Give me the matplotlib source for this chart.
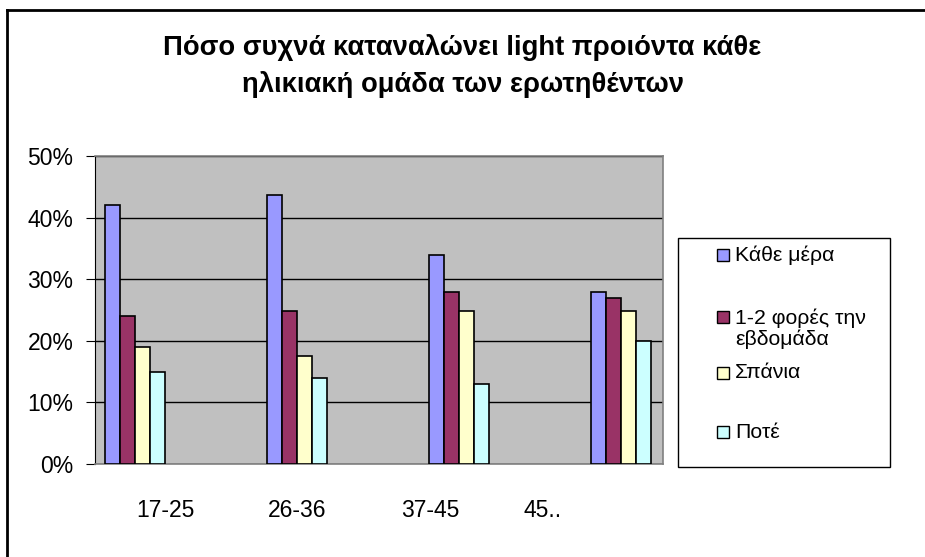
import matplotlib
matplotlib.use("Agg")
import matplotlib.pyplot as plt
from matplotlib.patches import Rectangle
from matplotlib.lines import Line2D

plt.rcParams['font.family'] = ['Liberation Sans', 'DejaVu Sans']

# age groups and answer shares (%)
age_groups = ["17-25", "26-36", "37-45", "45.."]
series_names = ["Κάθε μέρα", "1-2 φορές την\nεβδομάδα", "Σπάνια", "Ποτέ"]
every_day = [42, 43.6, 34, 28]
weekly = [24, 24.8, 28, 27]
rarely = [19, 17.6, 24.8, 24.8]
never = [15, 14, 13, 20]
series_values = [every_day, weekly, rarely, never]
series_colors = ["#9999FF", "#993366", "#FFFFCC", "#CCFFFF"]

title = "Πόσο συχνά καταναλώνει light προιόντα κάθε\nηλικιακή ομάδα των ερωτηθέντων"

W, H = 925, 557
fig = plt.figure(figsize=(W / 100, H / 100), dpi=100)


def fx(px):
    return px / W


def fy(py):
    return 1 - py / H


# plot area (pixel box 95..663 x 156..464)
ax = fig.add_axes([fx(95), fy(464), fx(663) - fx(95), fy(156) - fy(464)])
ax.set_facecolor("#C0C0C0")

bar_w = 0.0926
offset = 0.0617
for s, (vals, color) in enumerate(zip(series_values, series_colors)):
    xs = [i + offset + s * bar_w for i in range(len(age_groups))]
    ax.bar(xs, vals, width=bar_w, align="edge", color=color,
           edgecolor="black", linewidth=1.2, zorder=3)

ax.set_xlim(0, 568 / 162)
ax.set_ylim(0, 50)
ax.set_yticks(range(0, 51, 10))
ax.set_yticklabels([f"{v}%" for v in range(0, 51, 10)], fontsize=16.5)
ax.yaxis.grid(True, color="black", linewidth=1.0, zorder=1)

# category labels sit where the original layout put them
label_pos = [(165 - 95) / 162, (297 - 95) / 162, (430 - 95) / 162, (543 - 95) / 162]
ax.set_xticks(label_pos)
ax.set_xticklabels(age_groups, fontsize=16.5)
ax.tick_params(axis="x", length=0, pad=25.5)
ax.tick_params(axis="y", length=6.5, width=0.8, pad=9, direction="out")

for side in ["top", "right", "bottom"]:
    ax.spines[side].set_color("#808080")
    ax.spines[side].set_linewidth(1.2)
ax.spines["left"].set_color("black")
ax.spines["left"].set_linewidth(0.8)

fig.text(0.5, fy(66), title, ha="center", va="center", fontsize=19.7,
         fontweight="bold", linespacing=1.5)

# legend drawn by hand
fig.patches.append(Rectangle((fx(678), fy(467)), fx(890) - fx(678), fy(238) - fy(467),
                             transform=fig.transFigure, facecolor="white",
                             edgecolor="black", linewidth=1.0))
entry_y = [255, 317, 373, 432]
for name, color, py in zip(series_names, series_colors, entry_y):
    fig.patches.append(Rectangle((fx(717), fy(py + 6)), fx(12), 12 / H,
                                 transform=fig.transFigure, facecolor=color,
                                 edgecolor="black", linewidth=1.0))
    n_lines = name.count("\n") + 1
    fig.text(fx(735), fy(py + 11.5 * (n_lines - 1)), name, ha="left", va="center",
             fontsize=15.3, linespacing=1.1, transform=fig.transFigure)

# outer chart frame (top and left edges)
fig.add_artist(Line2D([fx(7), 1], [fy(10), fy(10)], color="black", linewidth=2))
fig.add_artist(Line2D([fx(7), fx(7)], [0, fy(10)], color="black", linewidth=2))

fig.savefig("out.png", dpi=100)
